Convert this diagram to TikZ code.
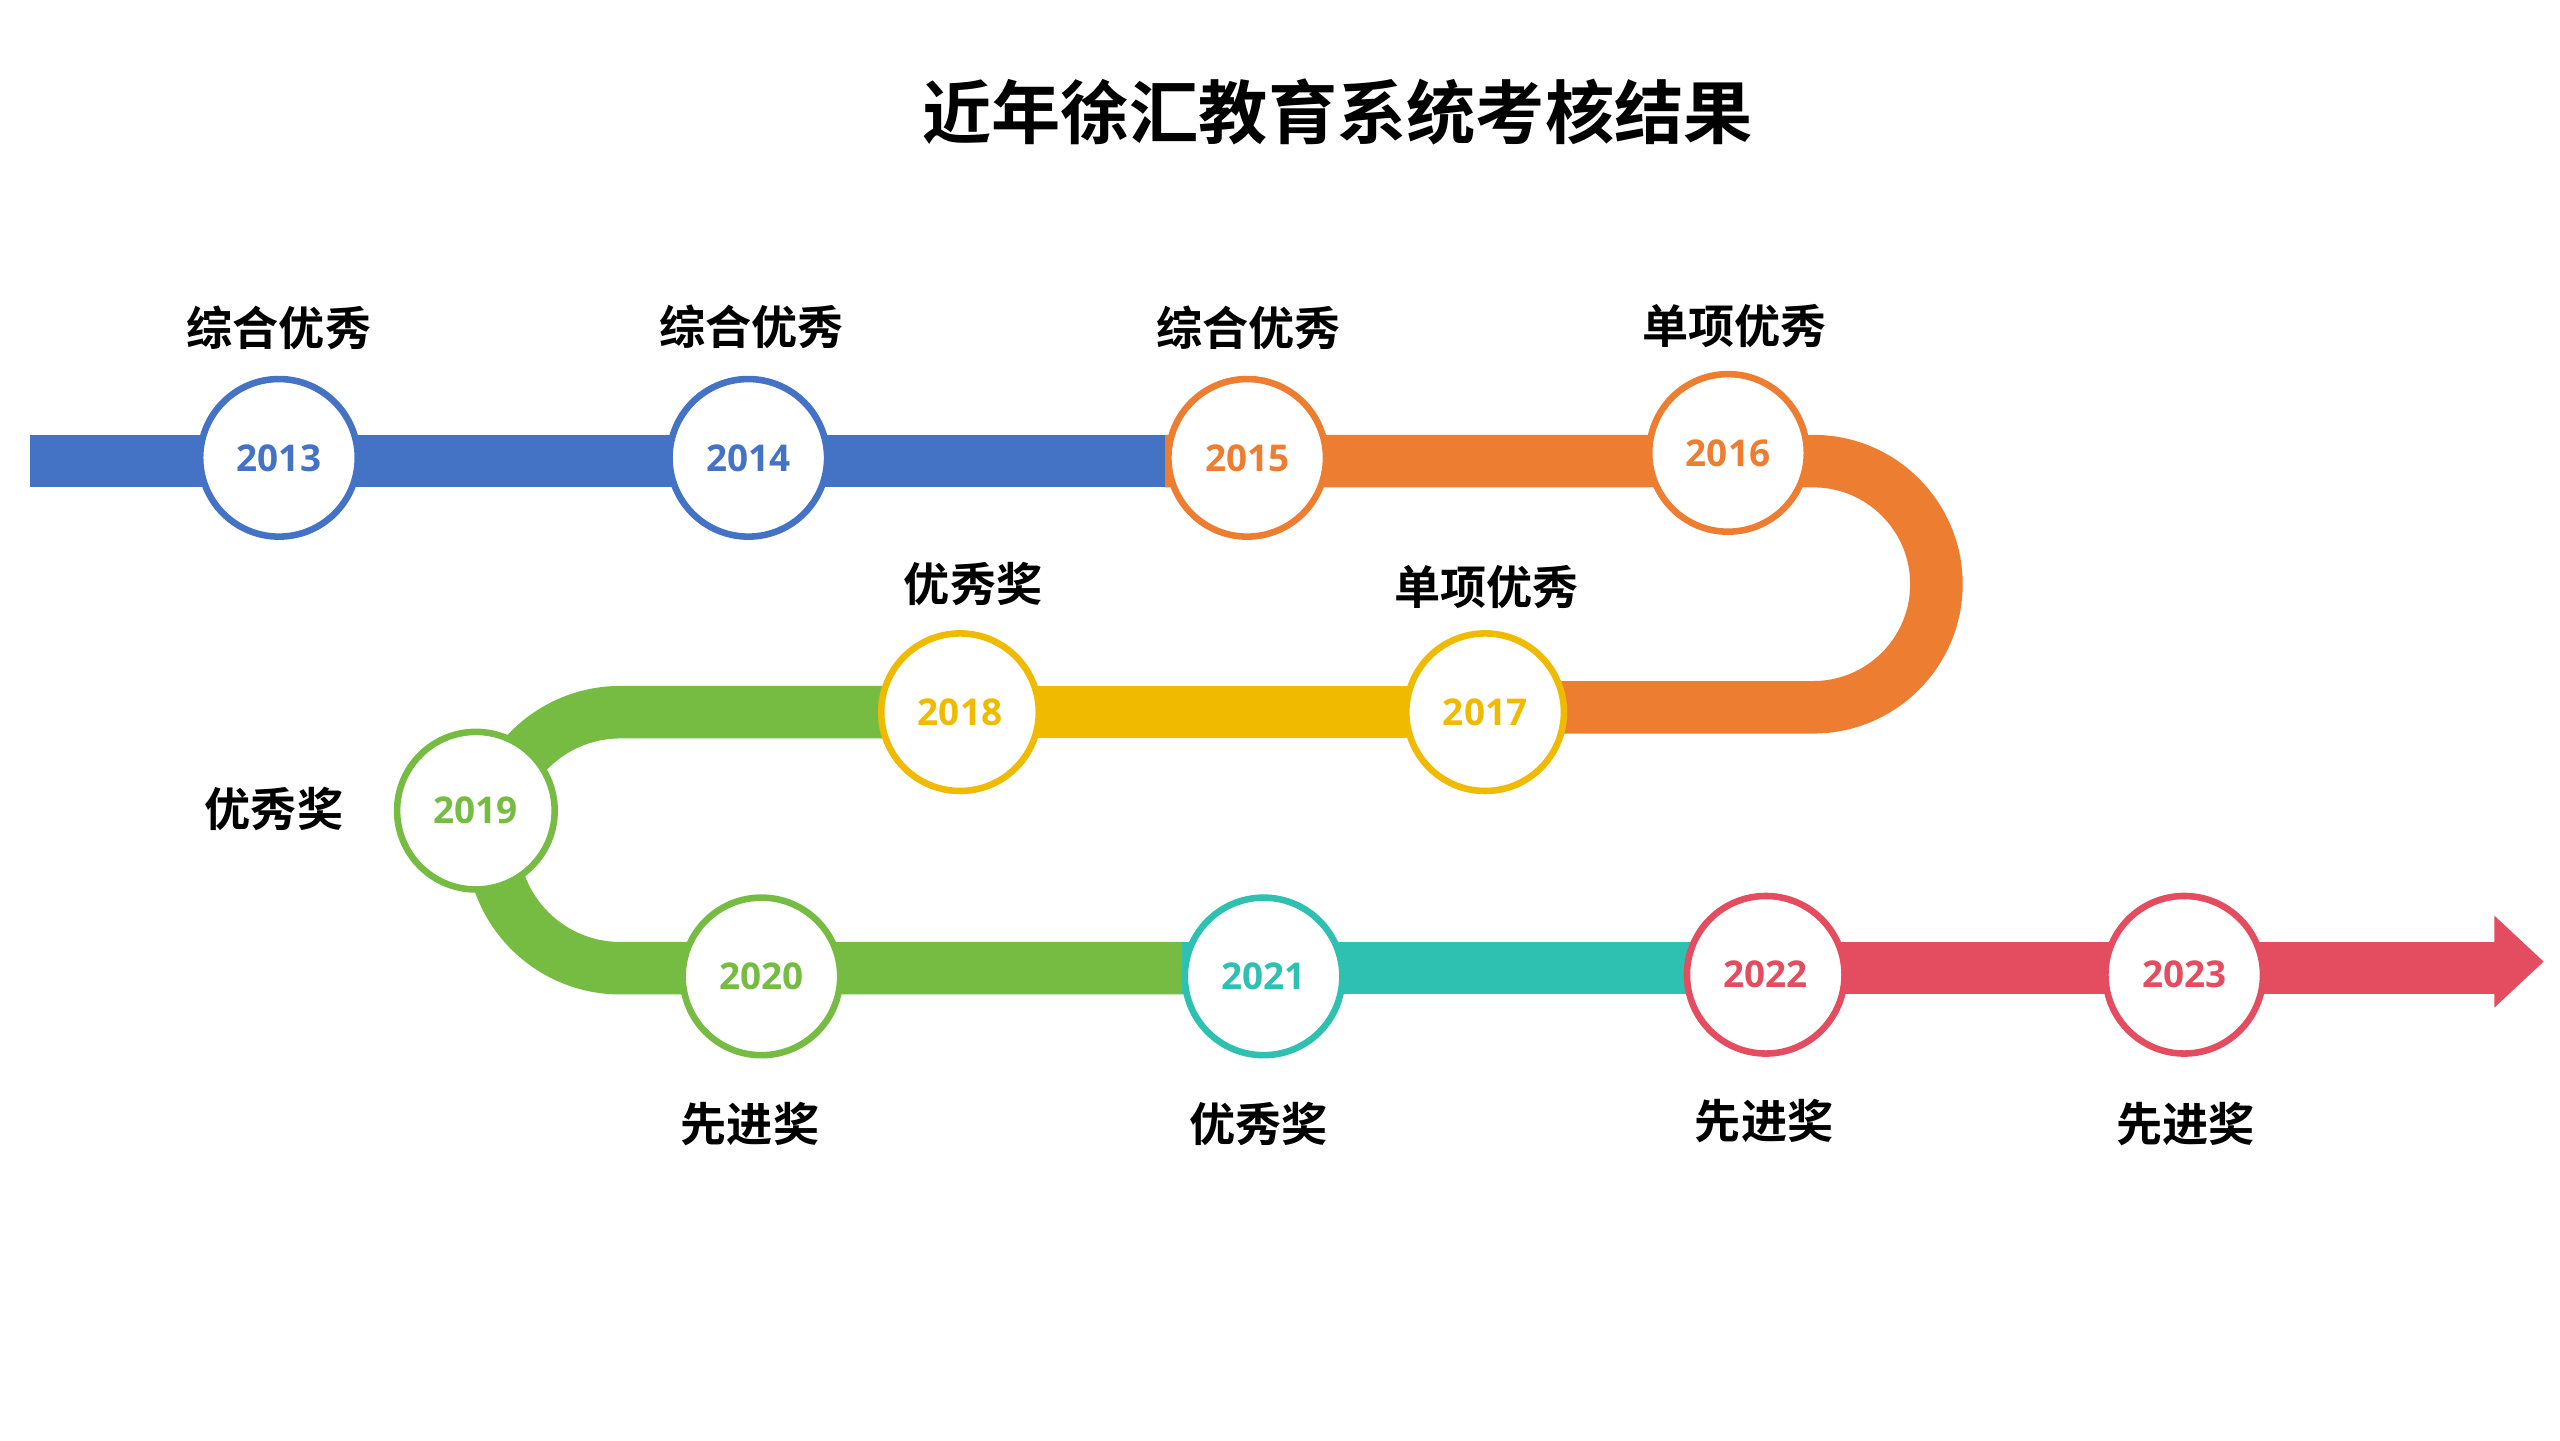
\documentclass[tikz,border=0pt]{standalone}
\usepackage{fontspec}
\setmainfont{Open Sans}
\newfontfamily\cjk{Noto Sans CJK SC}
\newfontfamily\cjkb{Noto Sans CJK SC Bold}
\definecolor{cb}{HTML}{4472C4}
\definecolor{co}{HTML}{ED7D31}
\definecolor{cy}{HTML}{F0BA00}
\definecolor{cg}{HTML}{76BC43}
\definecolor{ct}{HTML}{2EC0B0}
\definecolor{cr}{HTML}{E34D5F}
\begin{document}
\begin{tikzpicture}[x=0.025cm,y=-0.025cm,
  band/.style={line width=0.8cm},
  yr/.style={circle,draw=#1,fill=white,line width=0.1cm,minimum size=2.4cm,inner sep=0pt,text=#1,font=\fontsize{16}{18}\selectfont\bfseries},
  lab/.style={font=\cjkb\fontsize{20}{24}\selectfont}]
\useasboundingbox (0,0) rectangle (1560,878);
\node[font=\cjkb\fontsize{30}{34}\selectfont] (title) at (815,68) {近年徐汇教育系统考核结果};
% bands
\draw[band,cb] (18,281) -- (712,281);
\draw[band,co] (710,281) -- (1105,281) arc[start angle=-90,end angle=90,radius=75] -- (950,431);
\draw[band,cy] (585,434) -- (905,434);
\draw[band,cg] (585,434) -- (378,434) arc[start angle=-90,end angle=-270,radius=78] -- (722,590);
\draw[band,ct] (720,590) -- (1032,590);
\draw[band,cr] (1030,590) -- (1522,590);
\fill[cr] (1520,558) -- (1550,586) -- (1520,614) -- cycle;
% circles
\node[yr=cb] (y13) at (170,279) {2013};
\node[yr=cb] (y14) at (456,279) {2014};
\node[yr=co] (y15) at (760,279) {2015};
\node[yr=co] (y16) at (1053,276) {2016};
\node[yr=cy] (y17) at (905,434) {2017};
\node[yr=cy] (y18) at (585,434) {2018};
\node[yr=cg] (y19) at (290,494) {2019};
\node[yr=cg] (y20) at (464,595) {2020};
\node[yr=ct] (y21) at (770,595) {2021};
\node[yr=cr] (y22) at (1076,594) {2022};
\node[yr=cr] (y23) at (1331,594) {2023};
% labels
\node[lab] (l13) at (170,200) {综合优秀};
\node[lab] (l14) at (458,199) {综合优秀};
\node[lab] (l15) at (761,200) {综合优秀};
\node[lab] (l16) at (1057,199) {单项优秀};
\node[lab] (l17) at (906,358) {单项优秀};
\node[lab] (l18) at (593,356) {优秀奖};
\node[lab] (l19) at (167,493) {优秀奖};
\node[lab] (l20) at (457,685) {先进奖};
\node[lab] (l21) at (767,685) {优秀奖};
\node[lab] (l22) at (1075,683) {先进奖};
\node[lab] (l23) at (1332,685) {先进奖};
\end{tikzpicture}
\end{document}
